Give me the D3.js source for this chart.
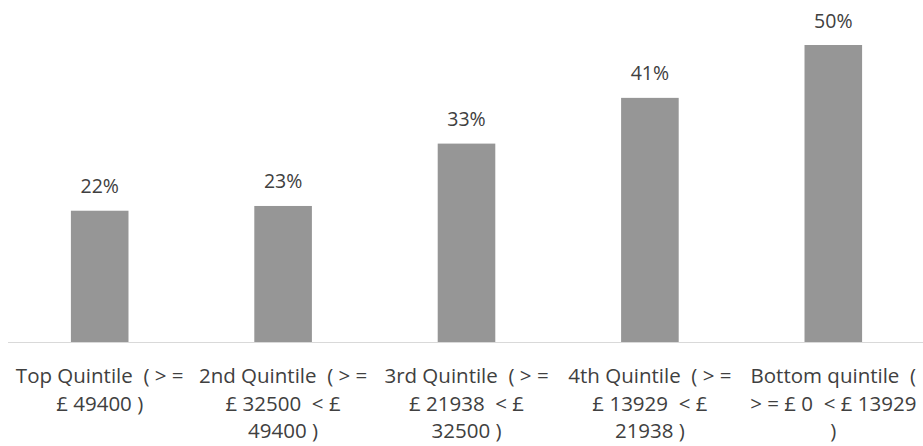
<!DOCTYPE html>
<html>
<head>
<meta charset="utf-8">
<script src="https://cdn.jsdelivr.net/npm/d3@7"></script>
<style>
  body { margin: 0; background: #fff; }
  text { font-family: "Open Sans", "Noto Sans", sans-serif; fill: #404040; }
</style>
</head>
<body>
<svg id="chart"></svg>
<script>
// 1. Data
const categories = ["Top", "2nd", "3rd", "4th", "Bottom"]
const categoryLines = [
  ["Top Quintile  ( > =", "£ 49400 )"],
  ["2nd Quintile  ( > =", "£ 32500  < £", "49400 )"],
  ["3rd Quintile  ( > =", "£ 21938  < £", "32500 )"],
  ["4th Quintile  ( > =", "£ 13929  < £", "21938 )"],
  ["Bottom quintile  (", "> = £ 0  < £ 13929", ")"],
]
const values = [0.221, 0.229, 0.334, 0.411, 0.50]

// 2. Dimensions
let dimensions = {
  width: 923,
  height: 446,
  margin: { top: 45, right: -2, bottom: 104, left: 8 },
}
dimensions.boundedWidth = dimensions.width
  - dimensions.margin.left
  - dimensions.margin.right
dimensions.boundedHeight = dimensions.height
  - dimensions.margin.top
  - dimensions.margin.bottom

// 3. Canvas
const wrapper = d3.select("#chart")
    .attr("width", dimensions.width)
    .attr("height", dimensions.height)

const bounds = wrapper.append("g")
    .attr("transform", `translate(${dimensions.margin.left}, ${dimensions.margin.top})`)

// 4. Scales
const xScale = d3.scaleBand()
  .domain(categories)
  .range([0, dimensions.boundedWidth])
  .paddingInner(0.686)
  .paddingOuter(0.343)

const yScale = d3.scaleLinear()
  .domain([0, 0.5])
  .range([dimensions.boundedHeight, 0])

const fmt = d3.format(".0%")

// 5. Bars
bounds.selectAll("rect.bar")
  .data(values)
  .join("rect")
    .attr("class", "bar")
    .attr("x", (d, i) => xScale(categories[i]))
    .attr("y", d => yScale(d))
    .attr("width", xScale.bandwidth())
    .attr("height", d => yScale(0) - yScale(d))
    .attr("fill", "#969696")

// value labels
bounds.selectAll("text.value")
  .data(values)
  .join("text")
    .attr("class", "value")
    .attr("x", (d, i) => xScale(categories[i]) + xScale.bandwidth() / 2)
    .attr("y", d => yScale(d) - 17.5)
    .attr("text-anchor", "middle")
    .style("font-size", "19.5px")
    .text(d => fmt(d))

// axis line
bounds.append("line")
  .attr("x1", 0)
  .attr("x2", dimensions.boundedWidth)
  .attr("y1", yScale(0) + 0.5)
  .attr("y2", yScale(0) + 0.5)
  .attr("stroke", "#d9d9d9")
  .attr("stroke-width", 1)

// category labels
const catGroups = bounds.selectAll("text.cat")
  .data(categoryLines)
  .join("text")
    .attr("class", "cat")
    .attr("text-anchor", "middle")
    .attr("xml:space", "preserve")
    .style("white-space", "pre")
    .style("font-size", "20.5px")
    .attr("transform", (d, i) =>
      `translate(${xScale(categories[i]) + xScale.bandwidth() / 2}, ${yScale(0) + 41})`)

catGroups.selectAll("tspan")
  .data(d => d)
  .join("tspan")
    .attr("x", 0)
    .attr("y", (d, i) => i * 27.5)
    .text(d => d)
</script>
</body>
</html>
